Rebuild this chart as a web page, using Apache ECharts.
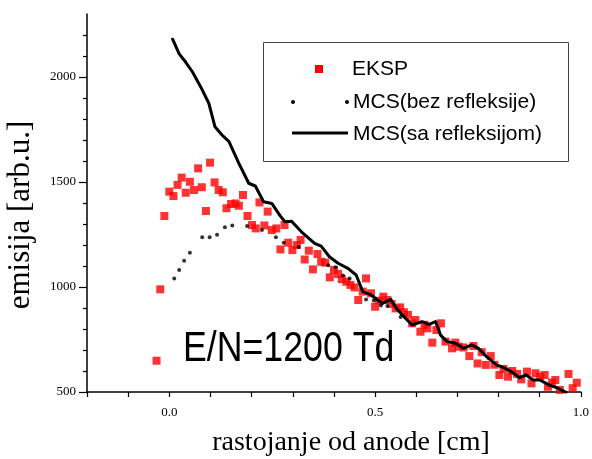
<!DOCTYPE html>
<html>
<head>
<meta charset="utf-8">
<script src="https://cdn.jsdelivr.net/npm/echarts@6/dist/echarts.min.js"></script>
<style>html,body{margin:0;padding:0;background:#fff}#c{width:592px;height:459px}</style>
</head>
<body>
<div id="c"></div>
<script>
// ---- data ----
var ekspX = [-0.031,-0.022,-0.012,0.000,0.010,0.020,0.030,0.040,0.050,0.060,0.070,0.079,0.089,0.099,0.110,0.120,0.130,0.139,0.150,0.161,0.169,0.179,0.190,0.201,0.210,0.219,0.231,0.239,0.249,0.260,0.270,0.280,0.289,0.299,0.310,0.319,0.329,0.339,0.349,0.360,0.369,0.379,0.390,0.400,0.410,0.419,0.430,0.440,0.450,0.459,0.470,0.478,0.490,0.500,0.510,0.520,0.530,0.540,0.550,0.561,0.570,0.580,0.590,0.598,0.610,0.620,0.627,0.639,0.649,0.660,0.671,0.687,0.695,0.703,0.715,0.729,0.739,0.749,0.759,0.769,0.781,0.790,0.802,0.812,0.823,0.833,0.845,0.855,0.869,0.880,0.890,0.901,0.912,0.920,0.930,0.938,0.949,0.970,0.980,0.990];
var ekspY = [649,989,1338,1454,1433,1486,1521,1449,1501,1462,1565,1475,1362,1592,1498,1462,1451,1375,1395,1398,1387,1438,1338,1295,1279,1403,1293,1359,1271,1279,1179,1295,1211,1176,1200,1224,1131,1173,1084,1157,1120,1116,1046,1081,1062,1037,1025,1010,998,938,978,1041,970,906,935,954,938,919,898,903,880,867,827,843,787,820,803,735,795,827,740,708,735,716,712,671,719,636,690,629,671,630,581,610,573,600,586,560,597,541,589,573,581,525,545,557,510,586,518,544];

var bezX = [0.012,0.024,0.036,0.050,0.080,0.098,0.116,0.135,0.153,0.189,0.225,0.259,0.278,0.314,0.386,0.404,0.422,0.438,0.478,0.497,0.514,0.530,0.562];
var bezY = [1041,1081,1125,1163,1237,1237,1249,1284,1293,1290,1271,1237,1211,1190,1103,1094,1055,1041,941,936,912,910,857];

var saX = [0.008,0.024,0.040,0.056,0.076,0.096,0.111,0.128,0.145,0.169,0.193,0.209,0.229,0.249,0.269,0.281,0.297,0.321,0.353,0.369,0.389,0.410,0.434,0.454,0.470,0.490,0.506,0.518,0.538,0.552,0.570,0.590,0.614,0.631,0.647,0.659,0.675,0.695,0.715,0.735,0.751,0.771,0.795,0.811,0.831,0.851,0.867,0.884,0.900,0.924,0.944,0.964];
var saY = [2180,2110,2070,2025,1954,1875,1763,1724,1692,1589,1494,1481,1406,1398,1340,1311,1313,1263,1208,1195,1144,1113,1089,1057,978,962,938,922,941,898,859,819,835,822,835,771,740,732,708,724,708,668,629,617,597,568,581,557,557,533,518,498];

var xLabels = [0.0, 0.5, 1.0];
var yLabels = [500, 1000, 1500, 2000];
var seriesNames = ['EKSP', 'MCS(bez refleksije)', 'MCS(sa refleksijom)'];
var xTitle = 'rastojanje od anode [cm]';
var yTitle = 'emisija [arb.u.]';
var noteText = 'E/N=1200 Td';

function zip(a, b) { return a.map(function (v, i) { return [v, b[i]]; }); }

var serif = 'Liberation Serif';
var sans = 'Liberation Sans';

var chart = echarts.init(document.getElementById('c'), null, {renderer: 'canvas'});
chart.setOption({
  animation: false,
  backgroundColor: '#ffffff',
  grid: {left: 87, right: 7, top: 14, bottom: 67},
  xAxis: {
    type: 'value', min: -0.2, max: 1.0, interval: 0.1,
    splitLine: {show: false},
    axisLine: {onZero: false, lineStyle: {color: '#000', width: 1.5}},
    axisTick: {length: 5, lineStyle: {color: '#000', width: 1.2}},
    axisLabel: {
      margin: 14, color: '#000', fontFamily: serif, fontSize: 13,
      formatter: function (v) {
        for (var i = 0; i < xLabels.length; i++) if (Math.abs(v - xLabels[i]) < 1e-6) return xLabels[i].toFixed(1);
        return '';
      }
    }
  },
  yAxis: {
    type: 'value', min: 500, max: 2300, interval: 500,
    splitLine: {show: false},
    axisLine: {onZero: false, lineStyle: {color: '#000', width: 1.5}},
    axisTick: {length: 8, lineStyle: {color: '#000', width: 1.2}, customValues: yLabels},
    minorTick: {show: true, splitNumber: 5, length: 4, lineStyle: {color: '#000', width: 1.2}},
    axisLabel: {
      margin: 11, color: '#000', fontFamily: serif, fontSize: 13,
      formatter: function (v) { return yLabels.indexOf(v) >= 0 ? String(v) : ''; }
    }
  },
  series: [
    {name: seriesNames[0], type: 'scatter', symbol: 'rect', symbolSize: 8,
     itemStyle: {color: '#ff0000'}, data: zip(ekspX, ekspY), z: 2},
    {name: seriesNames[1], type: 'scatter', symbol: 'circle', symbolSize: 4,
     itemStyle: {color: '#000'}, data: zip(bezX, bezY), z: 3},
    {name: seriesNames[2], type: 'line', showSymbol: false, symbol: 'none',
     lineStyle: {color: '#000', width: 3, join: 'round', cap: 'round'}, data: zip(saX, saY), z: 4}
  ],
  graphic: [
    {type: 'text', x: 351, y: 443, z: 10,
     style: {text: xTitle, fill: '#000', font: '28px "' + serif + '"', textAlign: 'center', textVerticalAlign: 'middle', verticalAlign: 'middle'}},
    {type: 'text', x: 21, y: 215, rotation: Math.PI / 2, z: 10,
     style: {text: yTitle, fill: '#000', font: '31px "' + serif + '"', textAlign: 'center', textVerticalAlign: 'middle', verticalAlign: 'middle'}},
    {type: 'text', x: 183, y: 349, scaleX: 0.85, z: 10,
     style: {text: noteText, fill: '#000', font: '42px "' + sans + '"', textAlign: 'left', textVerticalAlign: 'middle', verticalAlign: 'middle'}},
    {type: 'group', z: 10, children: [
      {type: 'rect', shape: {x: 263.5, y: 42.5, width: 305, height: 119},
       style: {fill: '#fff', stroke: '#444', lineWidth: 1}},
      {type: 'rect', shape: {x: 315, y: 65, width: 8, height: 8}, style: {fill: '#ff0000'}},
      {type: 'text', x: 352, y: 69, style: {text: seriesNames[0], fill: '#000', font: '21px "' + sans + '"', textVerticalAlign: 'middle', verticalAlign: 'middle'}},
      {type: 'circle', shape: {cx: 293, cy: 102, r: 2}, style: {fill: '#000'}},
      {type: 'circle', shape: {cx: 347, cy: 102, r: 2}, style: {fill: '#000'}},
      {type: 'text', x: 353, y: 102, style: {text: seriesNames[1], fill: '#000', font: '21px "' + sans + '"', textVerticalAlign: 'middle', verticalAlign: 'middle'}},
      {type: 'line', shape: {x1: 292, y1: 133, x2: 348, y2: 133}, style: {stroke: '#000', lineWidth: 3}},
      {type: 'text', x: 353, y: 134, style: {text: seriesNames[2], fill: '#000', font: '21px "' + sans + '"', textVerticalAlign: 'middle', verticalAlign: 'middle'}}
    ]}
  ]
});
</script>
</body>
</html>
